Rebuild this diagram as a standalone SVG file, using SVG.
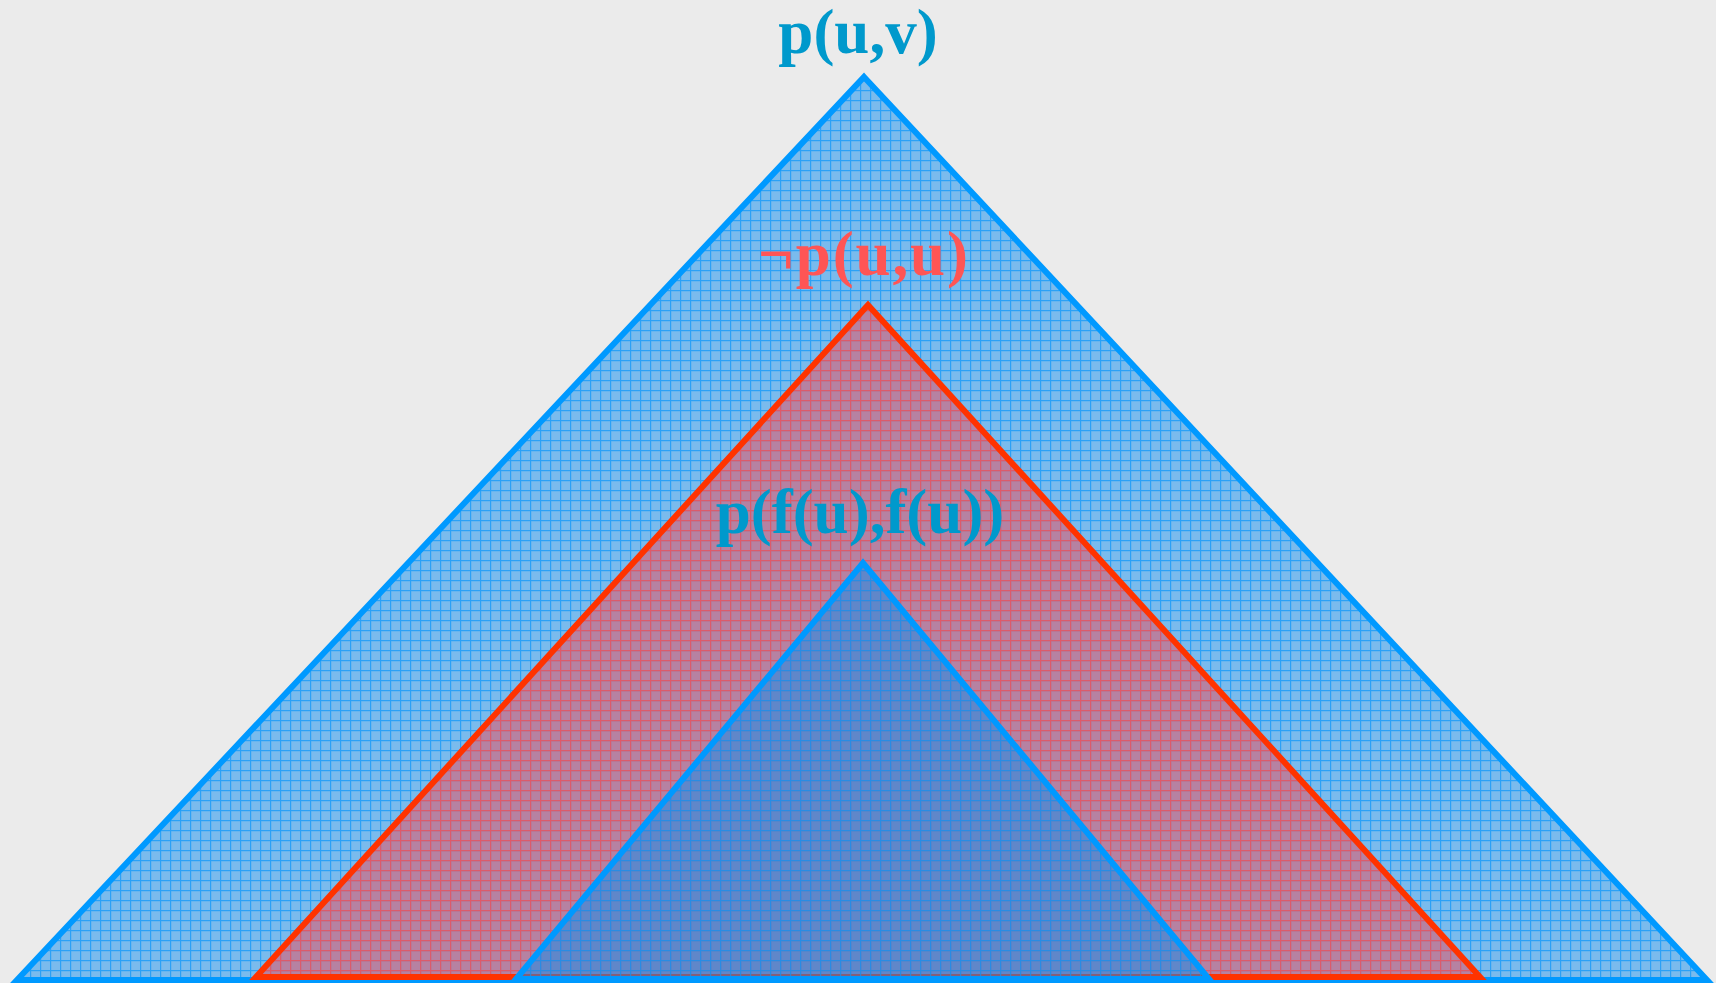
<svg xmlns="http://www.w3.org/2000/svg" width="1716" height="983" viewBox="0 0 1716 983">
<style>
.lbl{font-family:"Liberation Serif","Times New Roman",serif;font-weight:bold;font-size:63px;text-anchor:middle}
.blue{fill:#0099cc}
.red{fill:#ff5555}
</style>
<defs>
<pattern id="bp" width="10" height="10" patternUnits="userSpaceOnUse">
<rect width="10" height="10" fill="#0a8cf0" fill-opacity="0.5"/>
<path d="M0 0.6H10M0.6 0V10" stroke="#0a96fa" stroke-opacity="0.7" stroke-width="1.2"/>
</pattern>
<pattern id="rp" width="10" height="10" patternUnits="userSpaceOnUse">
<rect width="10" height="10" fill="#ff3c46" fill-opacity="0.45"/>
<path d="M0 0.6H10M0.6 0V10" stroke="#ff5050" stroke-opacity="0.7" stroke-width="1.2"/>
</pattern>
</defs>
<rect width="1716" height="983" fill="#ebebeb"/>
<g id="outer">
<polygon points="864,77 1707,980 17,980" fill="url(#bp)" stroke="#0099ff" stroke-width="6" stroke-linejoin="miter"/>
<text class="lbl blue" x="858" y="53">p(u,v)</text>
</g>
<g id="middle">
<polygon points="868,305 1480,977 256,977" fill="url(#rp)" stroke="#ff3300" stroke-width="6"/>
<text class="lbl red" x="863" y="275" textLength="210" lengthAdjust="spacing">¬p(u,u)</text>
</g>
<g id="inner">
<polygon points="863,563 1209,979 516,979" fill="url(#bp)" stroke="#0099ff" stroke-width="6"/>
<text class="lbl blue" x="860" y="533">p(f(u),f(u))</text>
</g>
<g id="connectors"/>
</svg>
